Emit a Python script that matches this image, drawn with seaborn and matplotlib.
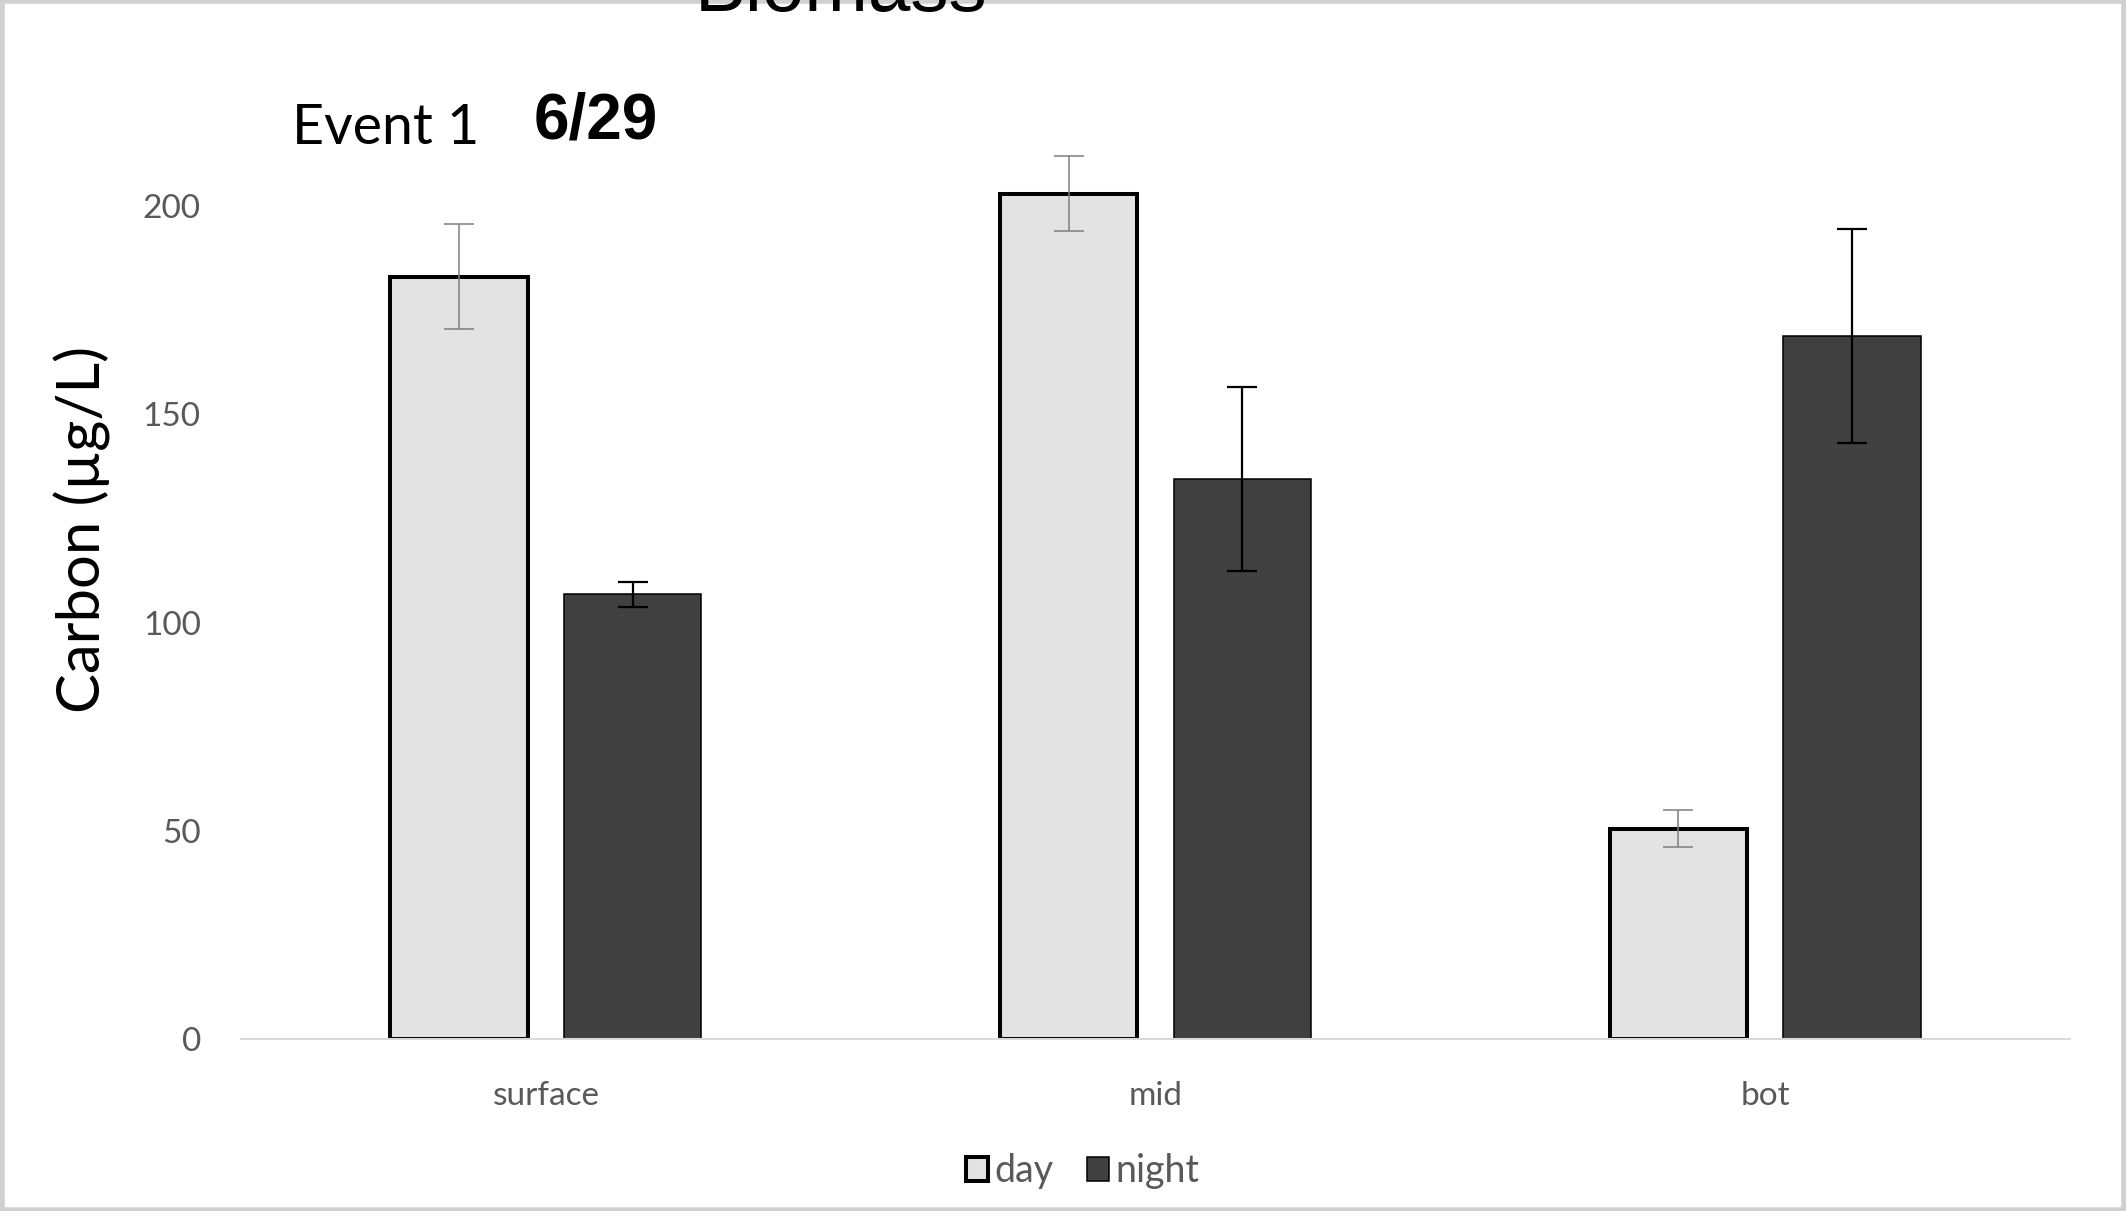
import matplotlib
matplotlib.use('Agg')

import matplotlib.pyplot as plt
import numpy as np
import pandas as pd
import seaborn as sns
from matplotlib.patches import Rectangle

# values
depths = ["surface", "mid", "bot"]
periods = ["day", "night"]
day_carbon = [183.0, 203.0, 50.5]
night_carbon = [106.8, 134.5, 168.8]
day_err = [12.6, 9.0, 4.5]
night_err = [3.0, 22.0, 25.6]
y_ticks = [0, 50, 100, 150, 200]

period_colors = {"day": "#e3e3e3", "night": "#404040"}
err_colors = {"day": "#7f7f7f", "night": "#000000"}
edge_widths = {"day": 2.9, "night": 1.1}

df = pd.DataFrame({
    "depth": depths * 2,
    "period": ["day"] * 3 + ["night"] * 3,
    "carbon": day_carbon + night_carbon,
})
errs = {"day": day_err, "night": night_err}

sns.set_theme(style="white")
plt.rcParams['font.family'] = ['Lato', 'DejaVu Sans']

fig = plt.figure(figsize=(21.26, 12.11), dpi=100)
ax = fig.add_axes([0.1134, 0.1420, 0.8603, 0.7566])

sns.barplot(data=df, x="depth", y="carbon", hue="period", order=depths,
            hue_order=periods, palette=period_colors, errorbar=None,
            width=0.57, gap=0.21, ax=ax, legend=False)

# edges and error bars per hue level
for period, cont in zip(periods, ax.containers):
    xs, hs = [], []
    for bar in cont:
        bar.set_edgecolor("black")
        bar.set_linewidth(edge_widths[period])
        xs.append(bar.get_x() + bar.get_width() / 2)
        hs.append(bar.get_height())
    ax.errorbar(xs, hs, yerr=errs[period], fmt="none",
                ecolor=err_colors[period],
                elinewidth=1.1 if period == "day" else 1.6,
                capsize=11, capthick=1.1 if period == "day" else 1.6,
                zorder=5)

ax.set_xlim(-0.5, 2.5)
ax.set_ylim(0, 220)
ax.set_yticks(y_ticks)
ax.tick_params(axis="y", length=0, pad=29, labelsize=24, labelcolor="#595959")
ax.tick_params(axis="x", length=0, pad=30, labelsize=24, labelcolor="#595959")
ax.set_xlabel("")
ax.set_ylabel("Carbon (µg/L)", fontsize=43, color="black")
ax.yaxis.set_label_coords(-0.071, 0.556)
for s in ["top", "left", "right"]:
    ax.spines[s].set_visible(False)
ax.spines["bottom"].set_color("#d9d9d9")
ax.spines["bottom"].set_linewidth(1.5)

handles = list(ax.containers)
leg = ax.legend(handles, periods, loc="upper center",
                bbox_to_anchor=(0.46, -0.088), ncol=2, frameon=False,
                fontsize=27, handlelength=0.6, handleheight=0.6,
                handletextpad=0.15, columnspacing=0.9)
for t in leg.get_texts():
    t.set_color("#595959")

# titles
fig.text(0.3956, 1 - 11 / 1211, "Biomass", ha="center", va="baseline",
         fontsize=55, family="Liberation Sans", color="black")
fig.text(0.1373, 1 - 144 / 1211, "Event 1", ha="left", va="baseline",
         fontsize=40, color="black")
fig.text(0.2512, 1 - 138 / 1211, "6/29", ha="left", va="baseline",
         fontsize=46, family="Liberation Sans", weight="bold", color="black")

# light frame around the chart
fig.patches.append(Rectangle((0.001, 0.001), 0.998, 0.998, transform=fig.transFigure,
                             fill=False, edgecolor="#d0d0d0", linewidth=4))

fig.savefig("out.png", dpi=100)
plt.close()
